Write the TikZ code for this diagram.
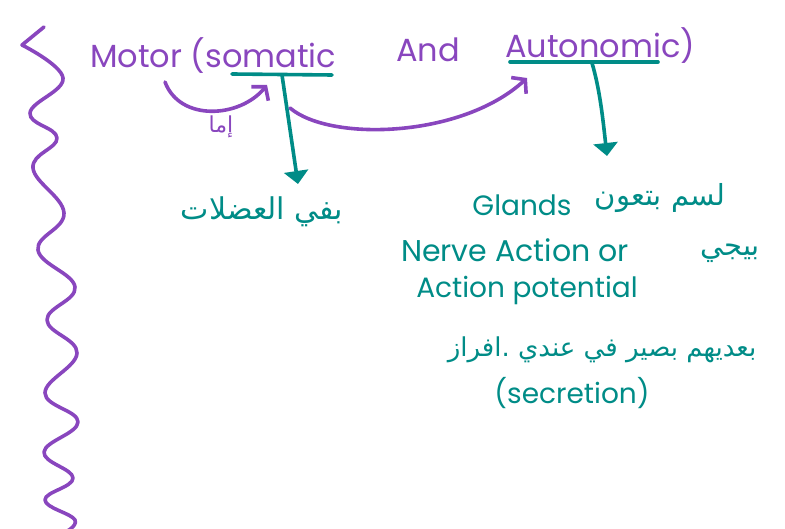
\documentclass[tikz,border=0pt]{standalone}
\usepackage{fontspec}
\setmainfont{Poppins}
\newfontfamily\arabicfont[Script=Arabic]{DejaVu Sans}
\TeXXeTstate=1
\usetikzlibrary{arrows.meta}
\definecolor{inkpurple}{RGB}{137,70,190}
\definecolor{inkteal}{RGB}{0,140,135}
\tikzset{
  pen/.style={line width=3.6pt, line cap=round, line join=round},
  purplepen/.style={pen, draw=inkpurple},
  tealpen/.style={pen, draw=inkteal},
  barbtip/.style={-{Straight Barb[length=9pt,width=22pt,line width=3.6pt]}},
  filltip/.style={-{Triangle[length=13pt,width=24pt]}},
  purpletext/.style={text=inkpurple, inner sep=0pt, font=\fontsize{32}{32}\selectfont},
  tealtext/.style={text=inkteal, inner sep=0pt, font=\fontsize{28}{28}\selectfont},
  arabictext/.style={text=inkteal, inner sep=0pt, font=\arabicfont\fontsize{29}{29}\selectfont},
}
\begin{document}
\begin{tikzpicture}[x=1pt,y=-1pt]
\useasboundingbox (0,0) rectangle (785,529);

% wavy margin line
\draw[purplepen] (44,27) -- plot[smooth,tension=0.7] coordinates {
  (22,45) (63,78) (30,113) (57,138) (33,168) (64,213) (38,250) (75,287)
  (47,320) (77,353) (45,393) (78,422) (44,452) (73,478) (45,500) (75,520) (62,534)};

% heading
\node[purpletext, anchor=base west] (motor) at (90,68) {Motor (somatic};
\node[purpletext, anchor=base] (and) at (428,62) {And};
\node[purpletext, anchor=base west] (autonomic) at (505,58) {Autonomic)};

% underlines
\coordinate (somL) at (232,74);
\coordinate (somR) at (332,75);
\coordinate (somStem) at (282,75);
\coordinate (autL) at (510,62);
\coordinate (autR) at (658,62);
\coordinate (autStem) at (592,63);
\draw[tealpen] (somL) -- (somR);
\draw[tealpen] (autL) -- (autR);

% text blocks
\node[arabictext, font=\arabicfont\fontsize{30}{30}\selectfont] (muscles) at (262,212) {\beginR بفي العضلات\endR};
\node[tealtext] (glands) at (522,205) {Glands};
\node[arabictext] (glandsar) at (660,198) {\beginR لسم بتعون\endR};
\node[tealtext, font=\fontsize{30}{30}\selectfont] (nerve) at (515,250) {Nerve Action or};
\node[arabictext] (comes) at (730,253) {\beginR بيجي\endR};
\node[tealtext] (potential) at (527,290) {Action potential};
\node[arabictext, font=\arabicfont\fontsize{26}{26}\selectfont] (after) at (602,350) {\beginR بعديهم بصير في عندي .افراز\endR};
\node[tealtext] (secretion) at (572,393) {(secretion)};

% teal stems with filled heads
\coordinate (musclesTop) at (298,184);
\coordinate (glandsTop) at (607,156);
\draw[tealpen, filltip] (somStem) -- (musclesTop);
\draw[tealpen, filltip] (autStem) .. controls (600,90) and (603,120) .. (glandsTop);

% purple curved arrows
\coordinate (loopA) at (165,82);
\coordinate (loopB) at (267,85);
\coordinate (swingA) at (290,108);
\coordinate (swingB) at (527,78);
\draw[purplepen, barbtip] (loopA) .. controls (180,122) and (240,118) .. (loopB);
\draw[purplepen, barbtip] (swingA) .. controls (330,142) and (462,138) .. (swingB);
\node[text=inkpurple, inner sep=0pt, font=\arabicfont\fontsize{22}{22}\selectfont] (either) at (221,127) {\beginR إما\endR};
\end{tikzpicture}
\end{document}
